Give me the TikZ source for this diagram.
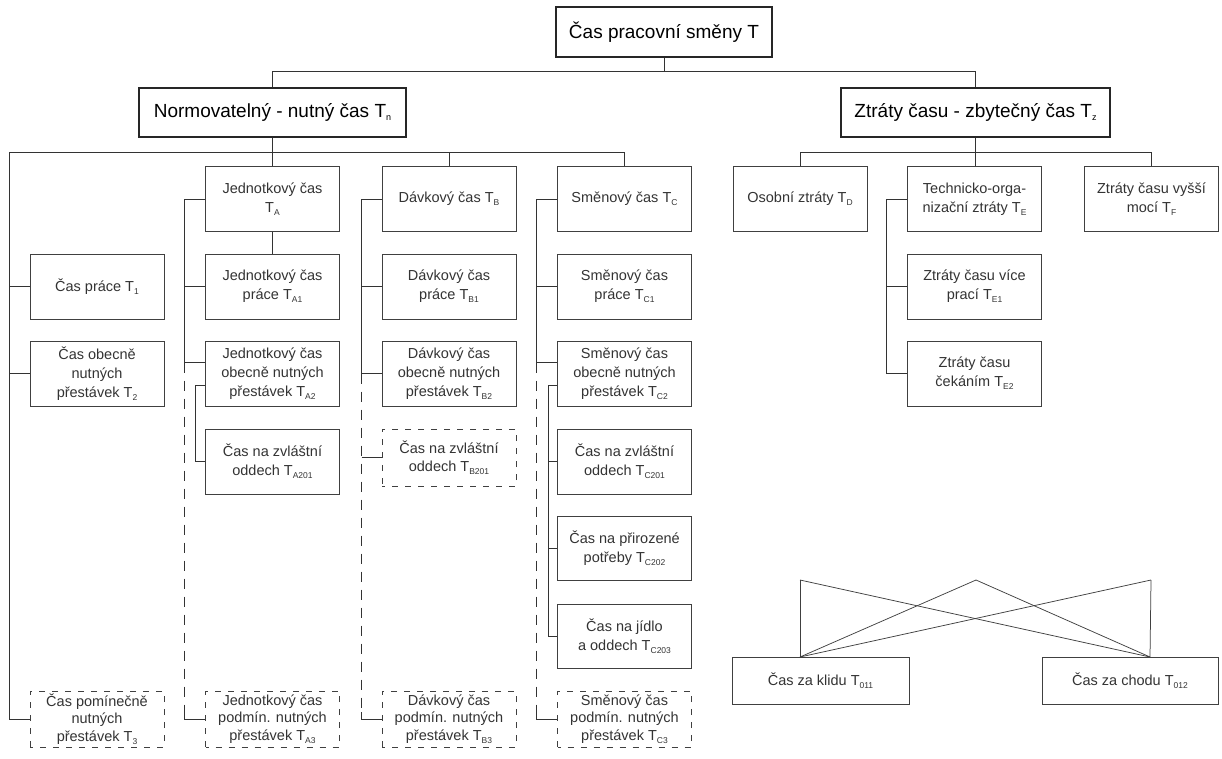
\documentclass[tikz,border=0pt]{standalone}
\usepackage{fontspec}
\setmainfont{Liberation Sans}
\newcommand\ix[1]{\raisebox{-3pt}{\fontsize{8.5}{8.5}\selectfont #1}}
\newcommand\bigix[1]{\raisebox{-3pt}{\fontsize{9}{9}\selectfont #1}}
\tikzset{
  conn/.style={draw=black!80, line width=0.9pt},
  thin/.style={draw=black!75, line width=0.75pt},
  dashconn/.style={draw=black!80, line width=0.9pt, dash pattern=on 10pt off 8pt},
  mainbox/.style={draw=black!85, line width=1.1pt, inner sep=0pt, align=center,
     font=\fontsize{19}{22}\selectfont, minimum height=49pt},
  sbox/.style={draw=black!75, line width=0.9pt, inner sep=0pt, align=center,
     font=\fontsize{14.5}{19}\selectfont, text=black!80,
     minimum width=134pt, minimum height=65pt},
  dbox/.style={sbox, dash pattern=on 6pt off 7pt, dash phase=3pt, minimum height=56pt,
     font=\fontsize{14.5}{17.5}\selectfont},
}
\begin{document}
\begin{tikzpicture}[x=1pt,y=-1pt]
\useasboundingbox (0,0) rectangle (1222,758);
% level 0/1
\node[mainbox, minimum width=216pt, minimum height=50pt] (top) at (664,32) {Čas pracovní směny T};
\node[mainbox, minimum width=267pt] (norm) at (272.5,112.5) {Normovatelný - nutný čas T\bigix{n}};
\node[mainbox, minimum width=269pt] (ztr) at (975.5,112.5) {Ztráty času - zbytečný čas T\bigix{z}};
% column heads
\node[sbox] (ja) at (272.5,199) {Jednotkový čas\\T\ix{A}};
\node[sbox] (dav) at (449,199) {Dávkový čas T\ix{B}};
\node[sbox] (sm) at (624.5,199) {Směnový čas T\ix{C}};
\node[sbox] (osobni) at (800,199) {Osobní ztráty T\ix{D}};
\node[sbox] (tech) at (974.5,199) {Technicko-orga-\\nizační ztráty T\ix{E}};
\node[sbox] (vyssi) at (1151.5,199) {Ztráty času vyšší\\mocí T\ix{F}};
% left column
\node[sbox] (t1) at (97,286.5) {Čas práce T\ix{1}};
\node[sbox] (t2) at (97,373.5) {Čas obecně\\nutných\\přestávek T\ix{2}};
\node[dbox] (t3) at (97,719) {Čas pomínečně\\nutných\\přestávek T\ix{3}};
% A column
\node[sbox] (ja1) at (272.5,286.5) {Jednotkový čas\\práce T\ix{A1}};
\node[sbox] (ja2) at (272.5,373.5) {Jednotkový čas\\obecně nutných\\přestávek T\ix{A2}};
\node[sbox] (ta201) at (272.5,461.5) {Čas na zvláštní\\oddech T\ix{A201}};
\node[dbox] (ta3) at (272.5,719) {Jednotkový čas\\podmín. nutných\\přestávek T\ix{A3}};
% B column
\node[sbox] (db1) at (449,286.5) {Dávkový čas\\práce T\ix{B1}};
\node[sbox] (db2) at (449,373.5) {Dávkový čas\\obecně nutných\\přestávek T\ix{B2}};
\node[dbox, minimum height=57pt] (tb201) at (449,457.5) {Čas na zvláštní\\oddech T\ix{B201}};
\node[dbox] (tb3) at (449,719) {Dávkový čas\\podmín. nutných\\přestávek T\ix{B3}};
% C column
\node[sbox] (tc1) at (624.5,286.5) {Směnový čas\\práce T\ix{C1}};
\node[sbox] (tc2) at (624.5,373.5) {Směnový čas\\obecně nutných\\přestávek T\ix{C2}};
\node[sbox] (tc201) at (624.5,461.5) {Čas na zvláštní\\oddech T\ix{C201}};
\node[sbox, minimum height=64pt] (tc202) at (624.5,548) {Čas na přirozené\\potřeby T\ix{C202}};
\node[sbox, minimum height=64pt] (tc203) at (624.5,636) {Čas na jídlo\\a oddech T\ix{C203}};
\node[dbox] (tc3) at (624.5,719) {Směnový čas\\podmín. nutných\\přestávek T\ix{C3}};
% E column
\node[sbox] (te1) at (974.5,286.5) {Ztráty času více\\prací T\ix{E1}};
\node[sbox] (te2) at (974.5,373.5) {Ztráty času\\čekáním T\ix{E2}};
% bottom pair
\node[sbox, minimum width=177pt, minimum height=47pt] (klidu) at (820.5,680.5) {Čas za klidu T\ix{011}};
\node[sbox, minimum width=176pt, minimum height=47pt] (chodu) at (1130,680.5) {Čas za chodu T\ix{012}};

% ---- connectors: top levels
\draw[conn] (norm.north) -- ++(0,-16) coordinate (b1) -| (ztr.north);
\draw[conn] (top.south) -- (top.south |- b1);
\coordinate (rail) at (9.5,152);
\draw[conn] (norm.south) -- (norm.south |- rail);
\draw[conn] (t3.west) -| (rail) -| (sm.north);
\draw[conn] (ja.north) -- (ja.north |- rail);
\draw[conn] (dav.north) -- (dav.north |- rail);
\draw[conn] (t1.west) -- (t1.west -| rail);
\draw[conn] (t2.west) -- (t2.west -| rail);
% A column
\draw[conn] (ja.west) -- ++(-21,0) coordinate (abr) |- ([yshift=11pt]ja2.west);
\draw[conn] (ja1.west) -- (ja1.west -| abr);
\draw[conn] (ja.south) -- (ja1.north);
\draw[dashconn] ([yshift=11pt]ja2.west -| abr) -- (ta3.west -| abr);
\draw[conn] ([yshift=7pt]ta3.west -| abr) |- (ta3.west);
\draw[conn] ([yshift=-12pt]ja2.west) -- ++(-10,0) |- (ta201.west);
% B column
\draw[conn] (dav.west) -- ++(-20,0) coordinate (bbr) |- (db2.west);
\draw[conn] (db1.west) -- (db1.west -| bbr);
\draw[dashconn] (db2.west -| bbr) -- (tb3.west -| bbr);
\draw[conn] ([yshift=7pt]tb3.west -| bbr) |- (tb3.west);
\draw[conn] (tb201.west -| bbr) -- (tb201.west);
% C column
\draw[conn] (sm.west) -- ++(-21,0) coordinate (cbr) |- ([yshift=11pt]tc2.west);
\draw[conn] (tc1.west) -- (tc1.west -| cbr);
\draw[dashconn] ([yshift=11pt]tc2.west -| cbr) -- (tc3.west -| cbr);
\draw[conn] ([yshift=7pt]tc3.west -| cbr) |- (tc3.west);
\draw[conn] ([yshift=-12pt]tc2.west) -- ++(-9,0) coordinate (cs) |- (tc203.west);
\draw[conn] (tc201.west) -- (tc201.west -| cs);
\draw[conn] (tc202.west) -- (tc202.west -| cs);
% right side
\draw[conn] (osobni.north) |- ([yshift=-15pt]ztr.south) -| (vyssi.north);
\draw[conn] (ztr.south) -- (ztr.south |- tech.north);
\draw[conn] (tech.west) -- ++(-21,0) coordinate (ebr) |- (te2.west);
\draw[conn] (te1.west) -- (te1.west -| ebr);
% crossing lines
\coordinate (p1) at (800,580);
\coordinate (p2) at (976,580);
\coordinate (p3) at (1151,580);
\coordinate (ka) at (800,657);
\coordinate (ca) at (1150,657);
\draw[thin] (p1) -- (ka);
\draw[thin] (p1) -- (ca);
\draw[thin] (p2) -- (ka);
\draw[thin] (p2) -- (ca);
\draw[thin] (p3) -- (ca);
\draw[thin] (p3) -- (ka);
\end{tikzpicture}
\end{document}
